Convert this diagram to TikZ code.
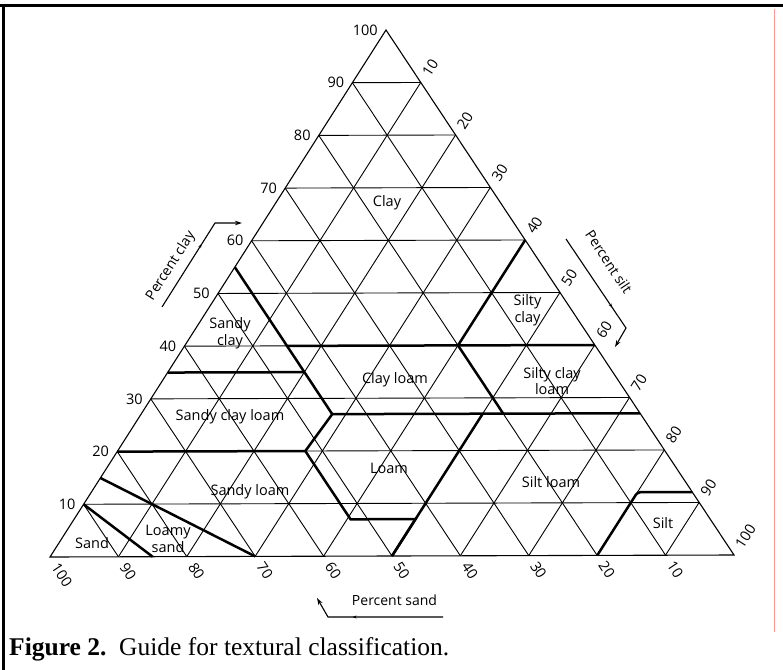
\documentclass[tikz,border=0pt]{standalone}
\usepackage{fontspec}
\setmainfont{Liberation Serif}
\newfontfamily\labfont{Open Sans}
\usetikzlibrary{arrows.meta,calc,decorations.markings}
\definecolor{pinkline}{RGB}{255,150,150}
\newcommand\terncoord[4]{\coordinate (#1) at (barycentric cs:A=#2,R=#3,L=#4);}
\tikzset{
  gridline/.style={line width=0.9bp},
  outline/.style={line width=1.1bp, line join=miter},
  thickb/.style={line width=2.5bp, line join=miter},
  region/.style={font=\labfont\fontsize{14.5bp}{16.5bp}\selectfont, inner sep=0pt, align=center},
  num/.style={font=\labfont\fontsize{14.5bp}{16bp}\selectfont, inner sep=0pt},
  ttl/.style={font=\labfont\fontsize{14bp}{16bp}\selectfont, inner sep=0pt},
  arr/.style={line width=1.1bp, -{Stealth[length=7bp,width=4.5bp]}},
  midarrow/.style={postaction={decorate, decoration={markings, mark=at position #1 with {\arrow{Stealth[length=4bp,width=3bp]}}}}},
}
\begin{document}
\begin{tikzpicture}[x=1bp,y=-1bp]
\useasboundingbox (0,0) rectangle (783,670);
\fill[white] (0,0) rectangle (783,670);
% frame
\draw[line width=3bp] (0,5.5) -- (783,5.5);
\draw[line width=3bp] (3,4) -- (3,670);
\draw[line width=1.5bp, pinkline] (774.5,9) -- (774.5,632);
% corners
\coordinate (A) at (386,30);
\coordinate (L) at (50,557);
\coordinate (R) at (734,555);
% grid
\foreach \i in {1,...,9}{
  \pgfmathtruncatemacro\j{10-\i}
  \draw[gridline] (barycentric cs:A=\i,L=\j) -- (barycentric cs:A=\i,R=\j);
  \draw[gridline] (barycentric cs:R=\i,L=\j) -- (barycentric cs:A=\j,R=\i);
  \draw[gridline] (barycentric cs:R=\j,L=\i) -- (barycentric cs:A=\j,L=\i);
}
\draw[outline] (A) -- (L) -- (R) -- cycle;
% class boundaries (clay, silt, sand) as fractions
\terncoord{p1a}{0.10}{0}{0.90}
\terncoord{p1b}{0}{0.15}{0.85}
\terncoord{p2a}{0.15}{0}{0.85}
\terncoord{p2b}{0}{0.30}{0.70}
\terncoord{p3a}{0.20}{0}{0.80}
\terncoord{p3b}{0.20}{0.275}{0.525}
\terncoord{p3c}{0.07}{0.405}{0.525}
\terncoord{p3d}{0.07}{0.50}{0.43}
\terncoord{p3e}{0}{0.50}{0.50}
\terncoord{p4a}{0.27}{0.28}{0.45}
\terncoord{p4b}{0.27}{0.73}{0}
\terncoord{p5a}{0.55}{0}{0.45}
\terncoord{p6a}{0.35}{0}{0.65}
\terncoord{p6b}{0.35}{0.20}{0.45}
\terncoord{p7a}{0.40}{0.15}{0.45}
\terncoord{p7b}{0.40}{0.60}{0}
\terncoord{p8a}{0.60}{0.40}{0}
\terncoord{p8b}{0.40}{0.40}{0.20}
\terncoord{p8c}{0.27}{0.53}{0.20}
\terncoord{p9a}{0.27}{0.50}{0.23}
\terncoord{p10a}{0}{0.80}{0.20}
\terncoord{p10b}{0.12}{0.80}{0.08}
\terncoord{p10c}{0.12}{0.88}{0}
\draw[thickb] (p1a) -- (p1b);
\draw[thickb] (p2a) -- (p2b);
\draw[thickb] (p3a) -- (p3b) -- (p3c) -- (p3d) -- (p3e);
\draw[thickb] (p3b) -- (p4a) -- (p4b);
\draw[thickb] (p5a) -- (p4a);
\draw[thickb] (p6a) -- (p6b);
\draw[thickb] (p7a) -- (p7b);
\draw[thickb] (p8a) -- (p8b) -- (p8c);
\draw[thickb] (p9a) -- (p3e);
\draw[thickb, rounded corners=3bp] (p10a) -- (p10b) -- (p10c);
% axis numbers
\foreach \i in {1,...,10}{
  \pgfmathtruncatemacro\j{10-\i}
  \pgfmathtruncatemacro\v{10*\i}
  \coordinate (cl\i) at (barycentric cs:A=\i,L=\j);
  \node[num, anchor=east] (ncl\i) at ($(cl\i)+(-8,0)$) {\v};
  \coordinate (si\i) at (barycentric cs:A=\j,R=\i);
  \node[num, rotate=57.5, anchor=west] (nsi\i) at ($(si\i)+(4.8,-7.6)$) {\v};
  \coordinate (sa\i) at (barycentric cs:R=\j,L=\i);
  \node[num, rotate=-56.5, anchor=west] (nsa\i) at ($(sa\i)+(5,7.5)$) {\v};
}
% region names
\node[region] (tclay) at (387,203) {Clay};
\node[region] (tsic) at (527.5,310) {Silty\\clay};
\node[region] (tsc) at (230,333) {Sandy\\clay};
\node[region] (tcl) at (395,380) {Clay loam};
\node[region] (tsicl) at (552,381) {Silty clay\\loam};
\node[region] (tscl) at (230,417) {Sandy clay loam};
\node[region] (tloam) at (389,468) {Loam};
\node[region] (tsil) at (551,482) {Silt loam};
\node[region] (tsl) at (250,492) {Sandy loam};
\node[region] (tls) at (168,539) {Loamy\\sand};
\node[region] (tsand) at (92,543) {Sand};
\node[region] (tsilt) at (663,523) {Silt};
% axis titles and arrows
\node[ttl, rotate=57.5] (pclay) at (171,266) {Percent clay};
\coordinate (ca1) at (162,307);
\coordinate (ca2) at (215,223);
\coordinate (ca3) at (242,223);
\draw[arr, midarrow=0.59] (ca1) -- (ca2) -- (ca3);
\node[ttl, rotate=-56.5] (psilt) at (609,262) {Percent silt};
\coordinate (sb1) at (566,239);
\coordinate (sb2) at (626,328);
\coordinate (sb3) at (615,347);
\draw[arr, midarrow=0.64] (sb1) -- (sb2) -- (sb3);
\node[ttl] (psand) at (394.5,600) {Percent sand};
\coordinate (sc1) at (443,617);
\coordinate (sc2) at (328,617);
\coordinate (sc3) at (317,598);
\draw[arr, midarrow=0.66] (sc1) -- (sc2) -- (sc3);
% caption
\node[anchor=base west, inner sep=0pt, font=\fontsize{25.5bp}{30bp}\selectfont] (cap) at (9,655.5) {\textbf{Figure 2.}\ \ Guide for textural classification.};
\end{tikzpicture}
\end{document}
